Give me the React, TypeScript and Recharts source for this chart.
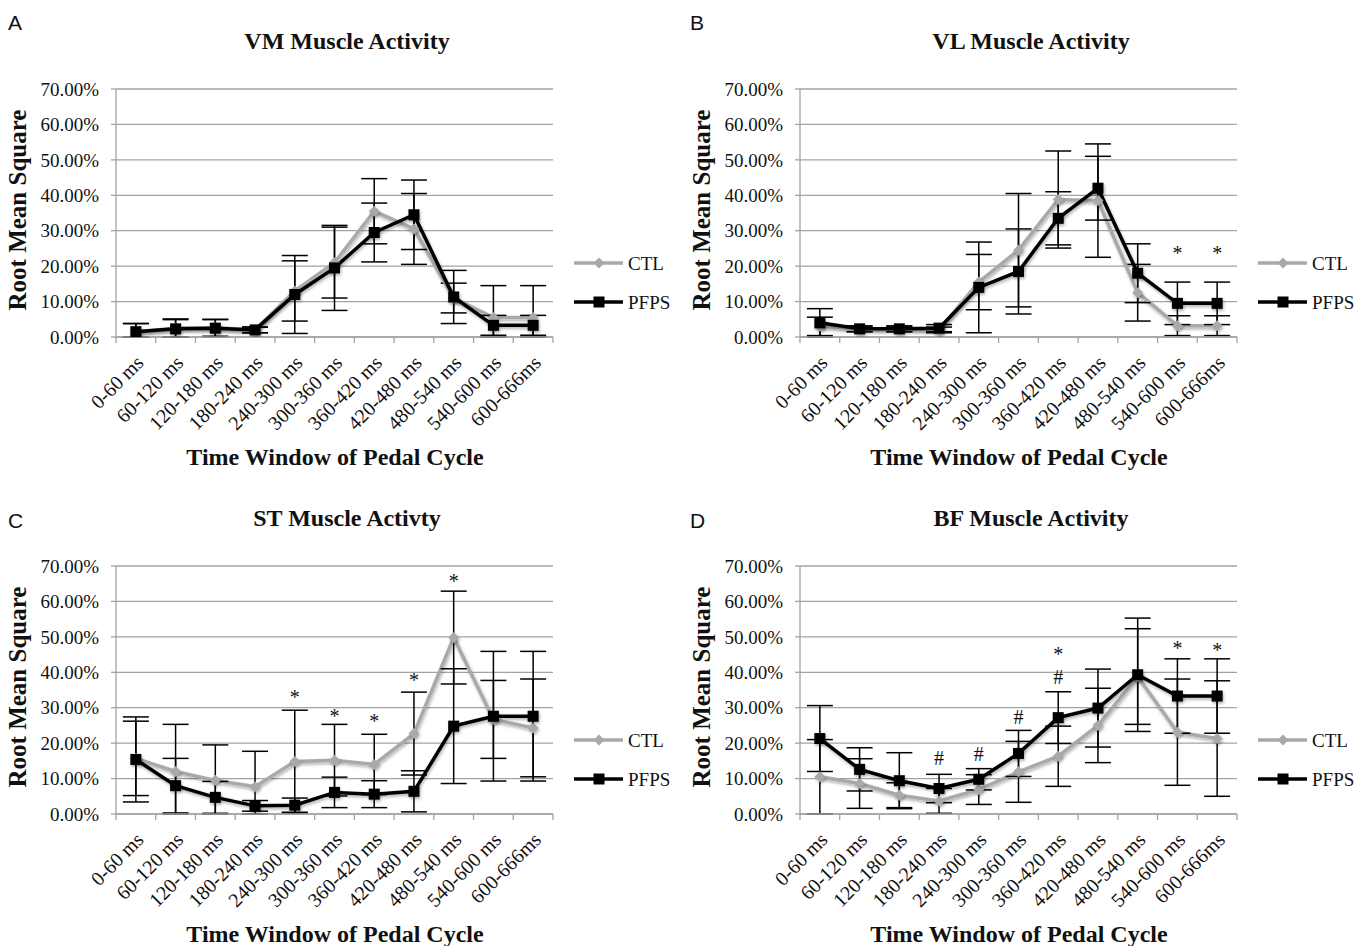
import React from 'react';
import { LineChart, Line, XAxis, YAxis, CartesianGrid, ErrorBar, Legend, LabelList } from 'recharts';

// ---------- data (values in %) ----------
const categories = [
  '0-60 ms', '60-120 ms', '120-180 ms', '180-240 ms', '240-300 ms', '300-360 ms',
  '360-420 ms', '420-480 ms', '480-540 ms', '540-600 ms', '600-666ms',
];
const yTicks = [0, 10, 20, 30, 40, 50, 60, 70];
const seriesNames = ['CTL', 'PFPS'];

// VM
const vmCtl = [1.5, 2.5, 2.6, 2.0, 13.0, 21.0, 35.5, 30.5, 11.0, 5.5, 5.5];
const vmCtlErr = [2.3, 2.6, 2.4, 0.8, 8.5, 10.0, 9.2, 10.0, 4.2, 9.0, 9.0];
const vmPfps = [1.5, 2.3, 2.5, 2.0, 12.0, 19.5, 29.5, 34.5, 11.3, 3.3, 3.3];
const vmPfpsErr = [2.3, 2.6, 2.4, 0.8, 11.0, 12.0, 8.3, 9.8, 7.5, 2.8, 2.8];

// VL
const vlCtl = [3.0, 2.3, 2.3, 2.0, 15.5, 24.5, 38.8, 38.5, 12.5, 3.2, 3.2];
const vlCtlErr = [2.6, 0.8, 0.8, 0.8, 7.8, 16.0, 13.7, 16.0, 8.0, 2.8, 2.8];
const vlPfps = [4.0, 2.3, 2.3, 2.5, 14.0, 18.5, 33.5, 42.0, 18.0, 9.5, 9.5];
const vlPfpsErr = [4.0, 0.8, 0.8, 1.0, 12.8, 12.0, 7.5, 9.0, 8.3, 6.0, 6.0];
const vlStar = [null, null, null, null, null, null, null, null, null, 24.3, 24.3];

// ST
const stCtl = [15.7, 12.0, 9.5, 7.7, 14.8, 15.2, 14.0, 22.7, 49.8, 26.7, 24.3];
const stCtlErr = [10.5, 13.3, 10.0, 10.0, 14.5, 10.1, 8.5, 11.7, 13.1, 11.0, 13.8];
const stPfps = [15.4, 8.0, 4.7, 2.3, 2.5, 6.1, 5.6, 6.4, 24.8, 27.6, 27.6];
const stPfpsErr = [12.0, 7.7, 4.5, 1.5, 2.0, 4.3, 3.8, 5.8, 16.2, 18.3, 18.3];
const stStar = [null, null, null, null, 33.5, 28.1, 26.7, 38.5, 66.4, null, null];

// BF
const bfCtl = [10.5, 8.6, 5.3, 3.7, 6.9, 11.9, 16.3, 25.0, 38.8, 23.1, 21.3];
const bfCtlErr = [10.5, 7.0, 3.5, 3.5, 4.2, 8.6, 8.5, 10.5, 13.5, 15.0, 16.3];
const bfPfps = [21.3, 12.6, 9.4, 7.2, 9.8, 17.1, 27.2, 29.9, 39.3, 33.3, 33.3];
const bfPfpsErr = [9.3, 6.1, 7.9, 4.0, 3.0, 6.5, 7.3, 11.0, 16.0, 10.5, 10.5];
const bfStar = [null, null, null, null, null, null, 45.7, null, null, 47.5, 46.9];
const bfHash = [null, null, null, 15.7, 17.0, 27.4, 38.6, null, null, null, null];

// ---------- styling ----------
const SERIF = '"Liberation Serif", "Times New Roman", serif';
const SANS = '"Liberation Sans", Arial, sans-serif';
const GRID = '#a3a3a3';
const CTL_COLOR = '#a9a9a9';
const PFPS_COLOR = '#000000';
const W = 684;
const H = 469;
const MARGIN = { top: 89, right: 131, left: 0, bottom: 0 };
const Y_WIDTH = 116;
const BAND_HALF = (W - MARGIN.right - Y_WIDTH) / categories.length / 2;

type Num = number | null;

function buildRows(ctl: number[], ctlErr: number[], pfps: number[], pfpsErr: number[], star?: Num[], hash?: Num[]) {
  return categories.map((cat, i) => ({
    cat,
    ctl: ctl[i],
    pfps: pfps[i],
    ctlErr: [Math.min(ctlErr[i], ctl[i]), ctlErr[i]],
    pfpsErr: [Math.min(pfpsErr[i], pfps[i]), pfpsErr[i]],
    star: star ? star[i] : null,
    hash: hash ? hash[i] : null,
  }));
}

const Diamond = (p: any) => {
  const { cx, cy, index } = p;
  if (cx == null || cy == null) return <g key={`dm-${index}`} />;
  const s = 5.5;
  return (
    <polygon key={`dm-${index}`} points={`${cx},${cy - s} ${cx + s},${cy} ${cx},${cy + s} ${cx - s},${cy}`} fill={CTL_COLOR} filter="url(#softShadow)" />
  );
};

const Square = (p: any) => {
  const { cx, cy, index } = p;
  if (cx == null || cy == null) return <g key={`sq-${index}`} />;
  return <rect key={`sq-${index}`} x={cx - 5.5} y={cy - 5.5} width={11} height={11} fill={PFPS_COLOR} filter="url(#softShadow)" />;
};

const XTick = (props: any) => {
  const { x, y, payload, index, visibleTicksCount } = props;
  const half = payload && typeof payload.offset === 'number' && payload.offset > 0 ? payload.offset : BAND_HALF;
  const last = index === visibleTicksCount - 1;
  return (
    <g>
      <line x1={x - half} x2={x - half} y1={y} y2={y + 6} stroke={GRID} strokeWidth={1.3} />
      {last ? <line x1={x + half} x2={x + half} y1={y} y2={y + 6} stroke={GRID} strokeWidth={1.3} /> : null}
      <text
        transform={`translate(${x + 9},${y + 27}) rotate(-45)`}
        textAnchor="end"
        fontFamily={SERIF}
        fontSize={20}
        fill="#111"
      >
        {payload.value}
      </text>
    </g>
  );
};

const makeMark = (symbol: string, shift: number) => (p: any) => {
  const { x, y, value, index } = p;
  if (value == null || x == null || y == null) return null;
  return (
    <text key={`${symbol}-${index}`} x={x} y={y + shift} textAnchor="middle" fontFamily={SERIF} fontSize={20} fill="#111">
      {symbol}
    </text>
  );
};
const StarMark = makeMark('*', 9);
const HashMark = makeMark('#', 7);

const legendItems = [
  { name: seriesNames[0], color: CTL_COLOR, marker: 'diamond' },
  { name: seriesNames[1], color: PFPS_COLOR, marker: 'square' },
];

const LegendBox = () => (
  <svg width={110} height={75} style={{ display: 'block', overflow: 'visible' }}>
    {legendItems.map((it, i) => (
      <g key={it.name} transform={`translate(0, ${15 + i * 39})`}>
        <line x1={0} x2={49} y1={0} y2={0} stroke={it.color} strokeWidth={3.5} />
        {it.marker === 'diamond' ? (
          <polygon points="25,-5.5 30.5,0 25,5.5 19.5,0" fill={it.color} />
        ) : (
          <rect x={19.5} y={-5.5} width={11} height={11} fill={it.color} />
        )}
        <text x={54} y={0} dy="0.35em" fontFamily={SERIF} fontSize={19} fill="#111">
          {it.name}
        </text>
      </g>
    ))}
  </svg>
);

type PanelProps = {
  left: number;
  top: number;
  letter: string;
  letterTop: number;
  title: string;
  rows: ReturnType<typeof buildRows>;
};

const Panel = ({ left, top, letter, letterTop, title, rows }: PanelProps) => (
  <div style={{ position: 'absolute', left, top, width: W, height: H }}>
    <LineChart width={W} height={H} data={rows} margin={MARGIN}>
      <defs>
        <filter id="softShadow" x="-50%" y="-50%" width="200%" height="200%">
          <feDropShadow dx="1" dy="2" stdDeviation="1.6" floodColor="#000" floodOpacity="0.3" />
        </filter>
      </defs>
      <CartesianGrid vertical={false} stroke={GRID} strokeWidth={1.3} />
      <XAxis
        dataKey="cat"
        interval={0}
        height={H - MARGIN.top - 248}
        padding={{ left: BAND_HALF, right: BAND_HALF }}
        tickLine={false}
        tickSize={0}
        tickMargin={0}
        axisLine={{ stroke: GRID, strokeWidth: 1.3 }}
        tick={<XTick />}
      />
      <YAxis
        width={Y_WIDTH}
        domain={[0, 70]}
        allowDataOverflow
        ticks={yTicks}
        tickFormatter={(v: number) => `${v.toFixed(2)}%`}
        tickSize={5}
        tickMargin={12}
        axisLine={{ stroke: GRID, strokeWidth: 1.3 }}
        tickLine={{ stroke: GRID, strokeWidth: 1.3 }}
        tick={{ fontFamily: SERIF, fontSize: 19, fill: '#111' }}
      />
      <Legend
        layout="vertical"
        align="center"
        verticalAlign="middle"
        content={() => <LegendBox />}
        wrapperStyle={{ left: 574, top: 248, width: 110 }}
      />
      <Line
        type="linear"
        dataKey="ctl"
        name={seriesNames[0]}
        stroke={CTL_COLOR}
        strokeWidth={3.5}
        filter="url(#softShadow)"
        dot={Diamond}
        activeDot={false}
        isAnimationActive={false}
      >
        <ErrorBar dataKey="ctlErr" width={13} strokeWidth={1.5} stroke="#000" direction="y" />
      </Line>
      <Line
        type="linear"
        dataKey="pfps"
        name={seriesNames[1]}
        stroke={PFPS_COLOR}
        strokeWidth={3.5}
        filter="url(#softShadow)"
        dot={Square}
        activeDot={false}
        isAnimationActive={false}
      >
        <ErrorBar dataKey="pfpsErr" width={13} strokeWidth={1.5} stroke="#000" direction="y" />
      </Line>
      <Line dataKey="star" stroke="none" dot={false} activeDot={false} isAnimationActive={false} legendType="none">
        <LabelList dataKey="star" content={StarMark} />
      </Line>
      <Line dataKey="hash" stroke="none" dot={false} activeDot={false} isAnimationActive={false} legendType="none">
        <LabelList dataKey="hash" content={HashMark} />
      </Line>
    </LineChart>
    <div style={{ position: 'absolute', left: letter === 'A' || letter === 'C' ? 8 : 6, top: letterTop, fontFamily: SANS, fontSize: 21, lineHeight: 1, color: '#111' }}>
      {letter}
    </div>
    <div style={{ position: 'absolute', left: 347, top: 29, transform: 'translateX(-50%)', whiteSpace: 'nowrap', fontFamily: SERIF, fontWeight: 'bold', fontSize: 24, lineHeight: 1, color: '#111' }}>
      {title}
    </div>
    <div style={{ position: 'absolute', left: 17, top: 210, transform: 'translate(-50%, -50%) rotate(-90deg)', whiteSpace: 'nowrap', fontFamily: SERIF, fontWeight: 'bold', fontSize: 25, lineHeight: 1, color: '#111' }}>
      Root Mean Square
    </div>
    <div style={{ position: 'absolute', left: 335, top: 445, transform: 'translateX(-50%)', whiteSpace: 'nowrap', fontFamily: SERIF, fontWeight: 'bold', fontSize: 24, lineHeight: 1, color: '#111' }}>
      Time Window of Pedal Cycle
    </div>
  </div>
);

export default function App() {
  const vm = buildRows(vmCtl, vmCtlErr, vmPfps, vmPfpsErr);
  const vl = buildRows(vlCtl, vlCtlErr, vlPfps, vlPfpsErr, vlStar);
  const st = buildRows(stCtl, stCtlErr, stPfps, stPfpsErr, stStar);
  const bf = buildRows(bfCtl, bfCtlErr, bfPfps, bfPfpsErr, bfStar, bfHash);
  return (
    <div style={{ position: 'absolute', left: 0, top: 0, width: 1368, height: 946, background: '#fff', overflow: 'hidden' }}>
      <Panel left={0} top={0} letter="A" letterTop={12} title="VM Muscle Activity" rows={vm} />
      <Panel left={684} top={0} letter="B" letterTop={12} title="VL Muscle Activity" rows={vl} />
      <Panel left={0} top={477} letter="C" letterTop={33} title="ST Muscle Activty" rows={st} />
      <Panel left={684} top={477} letter="D" letterTop={33} title="BF Muscle Activity" rows={bf} />
    </div>
  );
}
